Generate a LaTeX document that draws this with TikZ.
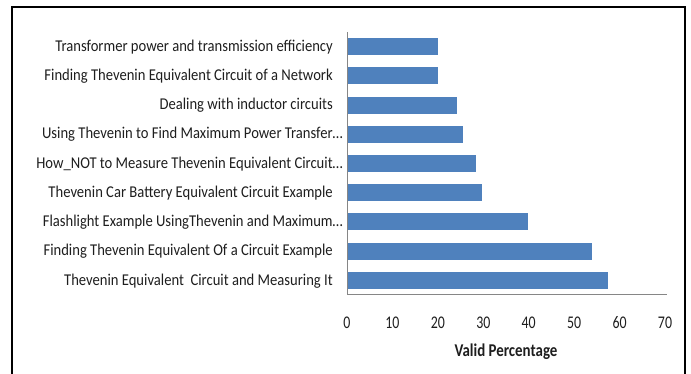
\documentclass[tikz,border=0pt]{standalone}
\usepackage{fontspec}
\setmainfont{Carlito}
\newfontfamily\catfont[FakeStretch=0.886]{Carlito}
\newfontfamily\tickfont[FakeStretch=0.78]{Carlito}
\newfontfamily\titlefont[FakeStretch=0.83]{Carlito}
\usepackage{tikz}
\usetikzlibrary{positioning}
\definecolor{barblue}{HTML}{4F81BD}
\definecolor{axisgray}{HTML}{868686}
\definecolor{labelgray}{HTML}{1E1E1E}

\begin{document}
\begin{tikzpicture}[x=1pt, y=1pt,
  frame/.style={draw=black, line width=2.5pt},
  axis/.style={draw=axisgray, line width=1pt},
  bar/.style={fill=barblue},
  cat/.style={anchor=base east, inner sep=0pt, text=labelgray, font=\catfont\fontsize{16.5}{18}\selectfont},
  tick/.style={anchor=base, inner sep=0pt, text=labelgray, font=\tickfont\fontsize{17.8}{20}\selectfont},
  xtitle/.style={anchor=base, inner sep=0pt, text=labelgray, font=\titlefont\fontsize{18}{20}\selectfont\bfseries}]
\useasboundingbox (0,0) rectangle (691,374);
\draw[frame] (12,-4) |- (685,367) -- (685,-4);
\begin{scope}[shift={(347,79)}, x=4.543pt, y=29.22pt]
\coordinate (o) at (0,0);
\coordinate (xend) at (70.4,0);
\coordinate (ytop) at (0,9);
\fill[bar] (0,8.21) rectangle (20,8.79);
\fill[bar] (0,7.21) rectangle (20,7.79);
\fill[bar] (0,6.21) rectangle (24.2,6.79);
\fill[bar] (0,5.21) rectangle (25.6,5.79);
\fill[bar] (0,4.21) rectangle (28.4,4.79);
\fill[bar] (0,3.21) rectangle (29.7,3.79);
\fill[bar] (0,2.21) rectangle (39.9,2.79);
\fill[bar] (0,1.21) rectangle (54,1.79);
\fill[bar] (0,0.21) rectangle (57.5,0.79);
\draw[axis] (ytop) -- (o) -- (xend);
\node[cat] (c1) at ([xshift=-14pt, yshift=-4.7pt]0,8.5) {Transformer power and transmission efficiency};
\node[cat] (c2) at ([xshift=-14pt, yshift=-4.7pt]0,7.5) {Finding Thevenin Equivalent Circuit of a Network};
\node[cat] (c3) at ([xshift=-14pt, yshift=-4.7pt]0,6.5) {Dealing with inductor circuits};
\node[cat] (c4) at ([xshift=-4pt, yshift=-4.7pt]0,5.5) {Using Thevenin to Find Maximum Power Transfer…};
\node[cat] (c5) at ([xshift=-4pt, yshift=-4.7pt]0,4.5) {How\_NOT to Measure Thevenin Equivalent Circuit…};
\node[cat] (c6) at ([xshift=-14pt, yshift=-4.7pt]0,3.5) {Thevenin Car Battery Equivalent Circuit Example};
\node[cat] (c7) at ([xshift=-4pt, yshift=-4.7pt]0,2.5) {Flashlight Example UsingThevenin and Maximum…};
\node[cat] (c8) at ([xshift=-14pt, yshift=-4.7pt]0,1.5) {Finding Thevenin Equivalent Of a Circuit Example};
\node[cat] (c9) at ([xshift=-14pt, yshift=-4.7pt]0,0.5) {Thevenin Equivalent\ \ Circuit and Measuring It};
\node[tick] (t0) at ([yshift=-34pt]0,0) {0};
\node[tick] (t10) at ([yshift=-34pt]10,0) {10};
\node[tick] (t20) at ([yshift=-34pt]20,0) {20};
\node[tick] (t30) at ([yshift=-34pt]30,0) {30};
\node[tick] (t40) at ([yshift=-34pt]40,0) {40};
\node[tick] (t50) at ([yshift=-34pt]50,0) {50};
\node[tick] (t60) at ([yshift=-34pt]60,0) {60};
\node[tick] (t70) at ([yshift=-34pt]70,0) {70};
\node[xtitle] (title) at ([yshift=-61.7pt]35,0) {Valid Percentage};
\end{scope}
\end{tikzpicture}
\end{document}
